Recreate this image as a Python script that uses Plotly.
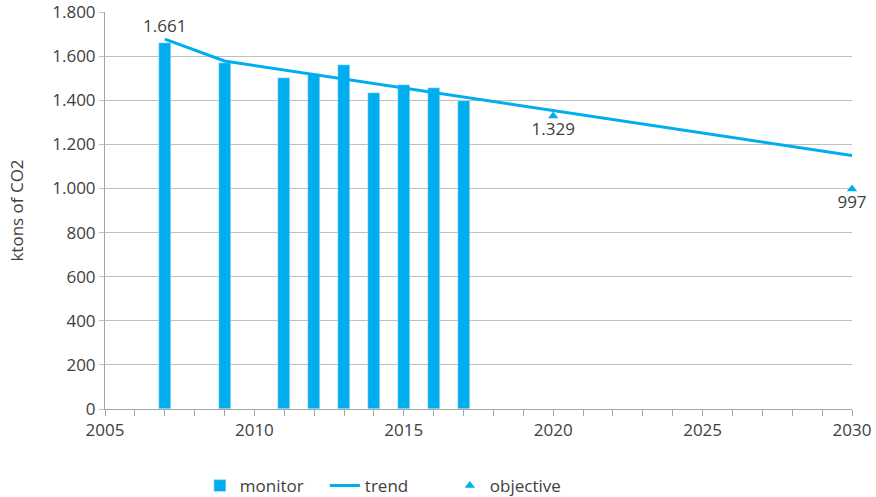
import plotly.graph_objects as go

# monitored emissions (ktons of CO2)
monitor_years = [2007, 2009, 2011, 2012, 2013, 2014, 2015, 2016, 2017]
monitor_values = [1661, 1567, 1502, 1517, 1558, 1431, 1469, 1456, 1397]

trend_years = [2007, 2009, 2030]
trend_values = [1677, 1578, 1149]

objective_years = [2020, 2030]
objective_values = [1329, 997]

blue = "#00AEEF"
grey_txt = "#404040"
font = "Open Sans"

fig = go.Figure()

fig.add_trace(go.Bar(
	x=monitor_years, y=monitor_values, name="monitor",
	marker_color=blue, width=0.4,
))

fig.add_trace(go.Scatter(
	x=trend_years, y=trend_values, name="trend", mode="lines",
	line=dict(color=blue, width=3),
))

fig.add_trace(go.Scatter(
	x=objective_years, y=objective_values, name="objective",
	mode="markers+text", marker=dict(symbol="triangle-up", size=9, color=blue),
	texttemplate="%{y:,.0f}", textposition="bottom center",
	textfont=dict(size=17, color=grey_txt), cliponaxis=False,
))

# label on the first monitored year
fig.add_annotation(
	x=monitor_years[0], y=monitor_values[0], text=f"{monitor_values[0]:,}".replace(",", "."),
	showarrow=False, yshift=17, font=dict(size=17, color=grey_txt),
)

fig.update_layout(
	width=876, height=497,
	margin=dict(l=105, r=24, t=12, b=88),
	plot_bgcolor="white", paper_bgcolor="white",
	font=dict(family=font, size=17, color=grey_txt),
	separators=",.",
	bargap=0,
	legend=dict(orientation="h", x=0.378, xanchor="center",
		yref="container", y=0.022, yanchor="middle", entrywidth=80,
		font=dict(size=17, color=grey_txt), bgcolor="rgba(0,0,0,0)"),
)

fig.update_xaxes(
	range=[2005, 2030], dtick=5, tick0=2005,
	showline=True, linecolor="#a6a6a6", linewidth=1,
	ticks="outside", ticklen=6, tickcolor="#a6a6a6",
	minor=dict(dtick=1, ticks="outside", ticklen=6, tickcolor="#a6a6a6"),
	showgrid=False, zeroline=False, automargin=False,
	ticklabeloverflow="allow", tickfont=dict(size=17),
)

fig.update_yaxes(
	range=[0, 1800], dtick=200,
	title=dict(text="ktons of CO2", font=dict(size=17), standoff=24),
	showline=True, linecolor="#a6a6a6", linewidth=1,
	ticks="outside", ticklen=5, tickcolor="#bfbfbf",
	showgrid=True, gridcolor="#bfbfbf", gridwidth=1,
	zeroline=False, tickformat=",d", automargin=False,
	ticklabeloverflow="allow", tickfont=dict(size=17),
)

# drop the default body margin so the figure fills the window exactly
fig.write_html("out.html", config={"displayModeBar": False},
	post_script="document.body.style.margin='0';")
